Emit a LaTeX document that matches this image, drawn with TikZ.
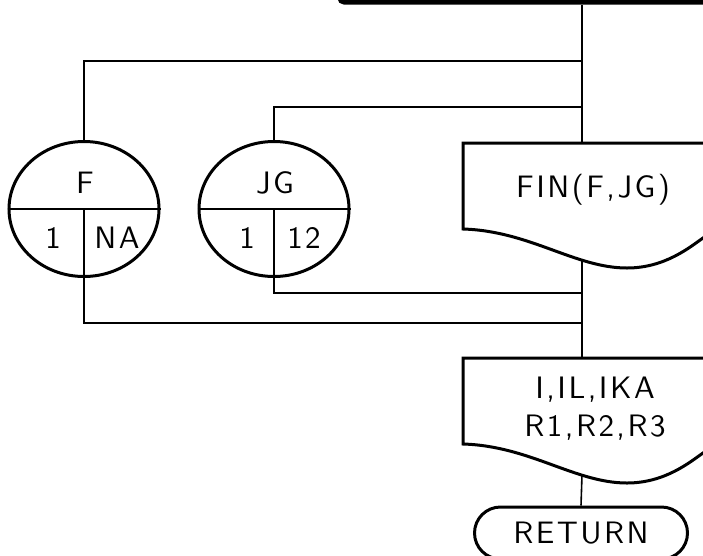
\documentclass[tikz,border=0pt]{standalone}
\usepackage{fontspec}
\usetikzlibrary{positioning}
\usetikzlibrary{calc}
\usetikzlibrary{shapes.geometric}
\usetikzlibrary{shapes.misc}

\newfontfamily\plotfam{lmsans10-regular.otf}[LetterSpace=8]
\newcommand{\plotfont}{\plotfam\fontsize{31}{38}\selectfont}

\tikzset{
    wire/.style={line width=1.6pt},
    outline/.style={line width=3pt},
    lbl/.style={font=\plotfont, inner sep=0pt, align=center},
    datafile/.style={ellipse, draw, outline, minimum width=150pt, minimum height=135pt, inner sep=0pt},
    terminal/.style={rounded rectangle, draw, outline, minimum width=213pt, minimum height=52pt, inner sep=0pt, font=\plotfont},
}

\begin{document}
\begin{tikzpicture}[x=1pt, y=-1pt]
    \useasboundingbox (0,0) rectangle (703,555);
    \clip (0,0) rectangle (703,555);

    % bottom edge of the block above
    \draw[line width=5pt, rounded corners=4pt] (340,-20) -- (340,2) -- (760,2);

    % points on the main line
    \coordinate (top) at (582,5);
    \coordinate (j1) at (582,61);
    \coordinate (j2) at (582,107);
    \coordinate (fintop) at (582,143);
    \coordinate (finbot) at (582,260);
    \coordinate (j3) at (582,293);
    \coordinate (j4) at (582,323);
    \coordinate (outtop) at (582,358);
    \coordinate (outbot) at (582,475);

    % data files
    \node[datafile] (F) at (84,209) {};
    \node[datafile] (JG) at (274,209) {};
    \draw[wire] (F.west) -- (F.east) (F.center) -- (F.south);
    \draw[wire] (JG.west) -- (JG.east) (JG.center) -- (JG.south);
    \node[lbl] (Fname) at (85,183) {F};
    \node[lbl] (Fa) at (53,238) {1};
    \node[lbl] (Fb) at (117,238) {NA};
    \node[lbl] (JGname) at (275,183) {JG};
    \node[lbl] (JGa) at (247,238) {1};
    \node[lbl] (JGb) at (304,238) {12};

    % documents
    \foreach \dy in {0,215} {
        \draw[outline, shift={(0,\dy)}] (463,143) -- (463,229)
            .. controls (530,231) and (575,268) .. (627,268)
            .. controls (665,268) and (690,247) .. (703,238)
            -- (760,200) -- (760,143) -- cycle;
    }
    \node[lbl] (fin) at (593,190) {FIN(F,JG)};
    \node[lbl] (out) at (595,409) {I,IL,IKA\\R1,R2,R3};

    \node[terminal] (ret) at (581,533) {RETURN};

    % connectors
    \draw[wire] (top) -- (fintop);
    \draw[wire] (finbot) -- (outtop);
    \draw[wire] (outbot) -- (ret.north);
    \draw[wire] (F.north) |- (j1);
    \draw[wire] (JG.north) |- (j2);
    \draw[wire] (F.south) |- (j4);
    \draw[wire] (JG.south) |- (j3);
\end{tikzpicture}
\end{document}
